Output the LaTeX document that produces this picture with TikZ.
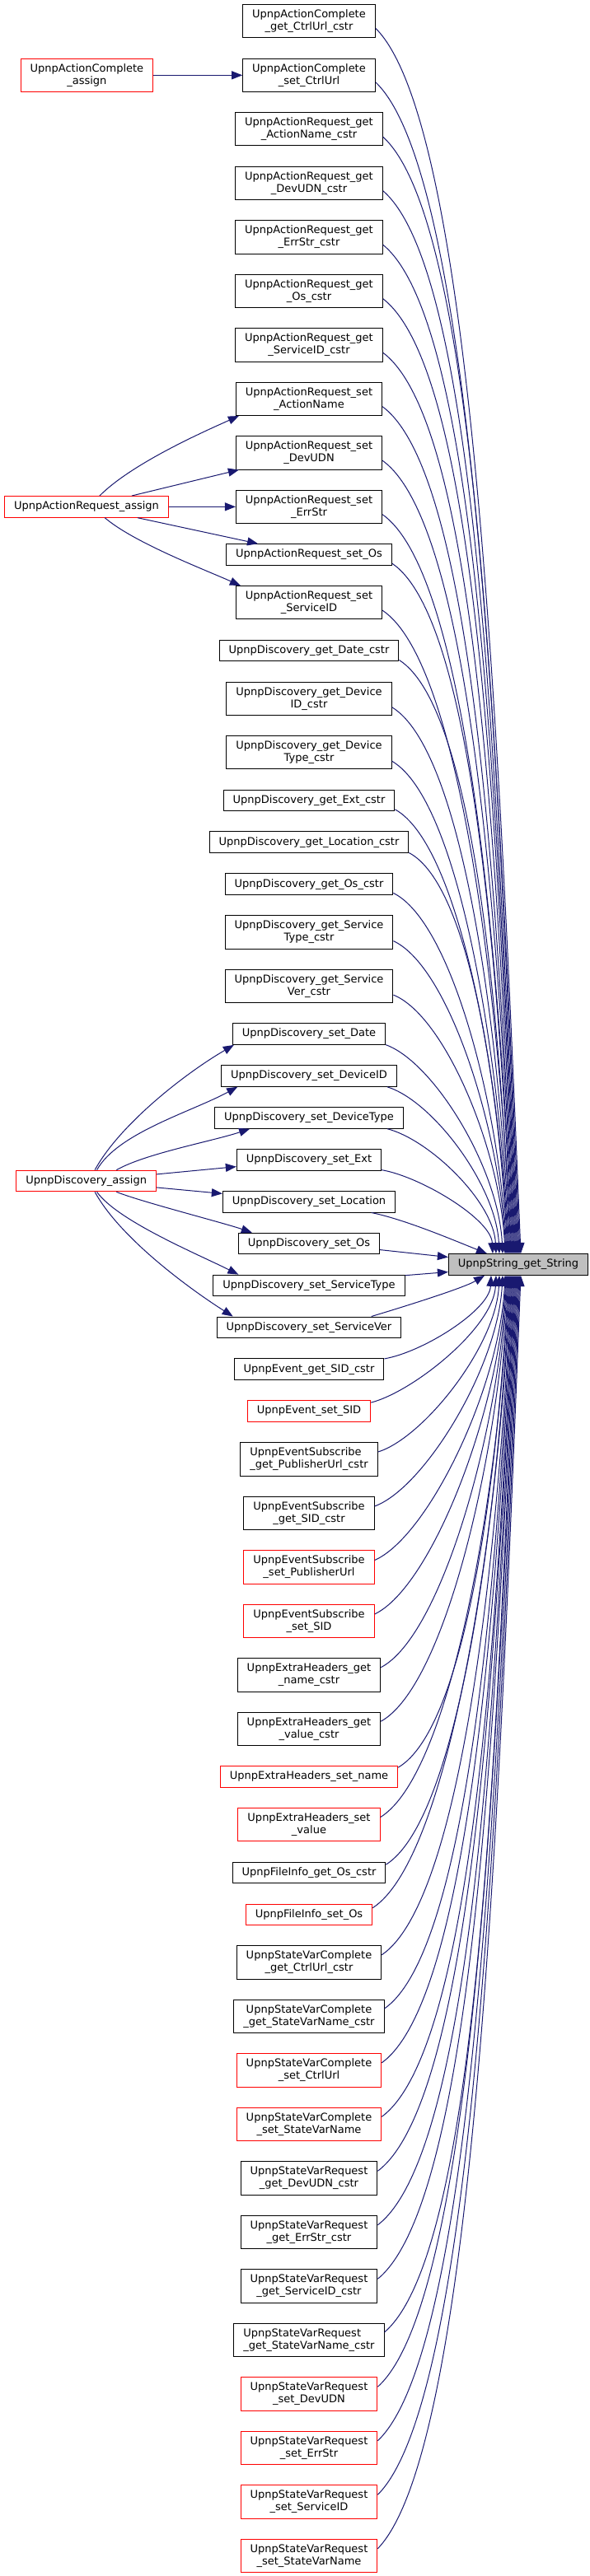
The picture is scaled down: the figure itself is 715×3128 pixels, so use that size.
\documentclass[tikz,border=0pt]{standalone}
\usepackage{fontspec}
\setmainfont{DejaVu Sans}
\usetikzlibrary{arrows.meta}
\definecolor{edgecol}{HTML}{191970}
\definecolor{hilite}{HTML}{BFBFBF}
\begin{document}
\begin{tikzpicture}[x=1pt,y=-1pt,
  fn/.style={draw=black, line width=1pt, fill=white, inner xsep=11.5pt, inner ysep=0pt,
             font=\fontsize{13pt}{15pt}\selectfont, align=center},
  one/.style={fn, minimum height=25.7pt},
  two/.style={fn, minimum height=40.3pt},
  rd/.style={draw=red},
  lft/.style={align=left},
  callarrow/.style={draw=edgecol, line width=1pt, -{Triangle[length=13pt,width=10pt]}}]
\fill[white] (0,0) rectangle (715,3128);
\useasboundingbox (0,0) rectangle (715,3128);

% left column
\node[two,rd] (a1) at (105.4,91.35) {UpnpActionComplete\\\_assign};
\node[one,rd] (a2) at (105,615.35) {UpnpActionRequest\_assign};
\node[one,rd] (a3) at (104.7,1434) {UpnpDiscovery\_assign};

% target
\node[one,fill=hilite] (s) at (629,1535.5) {UpnpString\_get\_String};

% middle column
\node[two] (m1) at (375,25.85) {UpnpActionComplete\\\_get\_CtrlUrl\_cstr};
\node[two] (m2) at (375,91.35) {UpnpActionComplete\\\_set\_CtrlUrl};
\node[two] (m3) at (375,156.85) {UpnpActionRequest\_get\\\_ActionName\_cstr};
\node[two] (m4) at (375,222.35) {UpnpActionRequest\_get\\\_DevUDN\_cstr};
\node[two] (m5) at (375,287.85) {UpnpActionRequest\_get\\\_ErrStr\_cstr};
\node[two] (m6) at (375,353.35) {UpnpActionRequest\_get\\\_Os\_cstr};
\node[two] (m7) at (375,418.85) {UpnpActionRequest\_get\\\_ServiceID\_cstr};
\node[two] (m8) at (375,484.35) {UpnpActionRequest\_set\\\_ActionName};
\node[two] (m9) at (375,549.85) {UpnpActionRequest\_set\\\_DevUDN};
\node[two] (m10) at (375,615.35) {UpnpActionRequest\_set\\\_ErrStr};
\node[one] (m11) at (375,673.55) {UpnpActionRequest\_set\_Os};
\node[two] (m12) at (375,731.75) {UpnpActionRequest\_set\\\_ServiceID};
\node[one] (m13) at (375,789.95) {UpnpDiscovery\_get\_Date\_cstr};
\node[two] (m14) at (375,848.15) {UpnpDiscovery\_get\_Device\\ID\_cstr};
\node[two] (m15) at (375,913.65) {UpnpDiscovery\_get\_Device\\Type\_cstr};
\node[one] (m16) at (375,971.85) {UpnpDiscovery\_get\_Ext\_cstr};
\node[one] (m17) at (375,1022.75) {UpnpDiscovery\_get\_Location\_cstr};
\node[one] (m18) at (375,1073.65) {UpnpDiscovery\_get\_Os\_cstr};
\node[two] (m19) at (375,1131.85) {UpnpDiscovery\_get\_Service\\Type\_cstr};
\node[two] (m20) at (375,1197.35) {UpnpDiscovery\_get\_Service\\Ver\_cstr};
\node[one] (m21) at (375,1255.55) {UpnpDiscovery\_set\_Date};
\node[one] (m22) at (375,1306.45) {UpnpDiscovery\_set\_DeviceID};
\node[one] (m23) at (375,1357.35) {UpnpDiscovery\_set\_DeviceType};
\node[one] (m24) at (375,1408.25) {UpnpDiscovery\_set\_Ext};
\node[one] (m25) at (375,1459.15) {UpnpDiscovery\_set\_Location};
\node[one] (m26) at (375,1510.05) {UpnpDiscovery\_set\_Os};
\node[one] (m27) at (375,1560.95) {UpnpDiscovery\_set\_ServiceType};
\node[one] (m28) at (375,1611.85) {UpnpDiscovery\_set\_ServiceVer};
\node[one] (m29) at (375,1662.75) {UpnpEvent\_get\_SID\_cstr};
\node[one,rd] (m30) at (375,1713.65) {UpnpEvent\_set\_SID};
\node[two,lft] (m31) at (375,1771.85) {UpnpEventSubscribe\\\_get\_PublisherUrl\_cstr};
\node[two] (m32) at (375,1837.35) {UpnpEventSubscribe\\\_get\_SID\_cstr};
\node[two,rd] (m33) at (375,1902.85) {UpnpEventSubscribe\\\_set\_PublisherUrl};
\node[two,rd] (m34) at (375,1968.35) {UpnpEventSubscribe\\\_set\_SID};
\node[two] (m35) at (375,2033.85) {UpnpExtraHeaders\_get\\\_name\_cstr};
\node[two] (m36) at (375,2099.35) {UpnpExtraHeaders\_get\\\_value\_cstr};
\node[one,rd] (m37) at (375,2157.55) {UpnpExtraHeaders\_set\_name};
\node[two,rd] (m38) at (375,2215.75) {UpnpExtraHeaders\_set\\\_value};
\node[one] (m39) at (375,2273.95) {UpnpFileInfo\_get\_Os\_cstr};
\node[one,rd] (m40) at (375,2324.85) {UpnpFileInfo\_set\_Os};
\node[two] (m41) at (375,2383.05) {UpnpStateVarComplete\\\_get\_CtrlUrl\_cstr};
\node[two] (m42) at (375,2448.55) {UpnpStateVarComplete\\\_get\_StateVarName\_cstr};
\node[two,rd] (m43) at (375,2514.05) {UpnpStateVarComplete\\\_set\_CtrlUrl};
\node[two,rd] (m44) at (375,2579.55) {UpnpStateVarComplete\\\_set\_StateVarName};
\node[two] (m45) at (375,2645.05) {UpnpStateVarRequest\\\_get\_DevUDN\_cstr};
\node[two] (m46) at (375,2710.55) {UpnpStateVarRequest\\\_get\_ErrStr\_cstr};
\node[two] (m47) at (375,2776.05) {UpnpStateVarRequest\\\_get\_ServiceID\_cstr};
\node[two,lft] (m48) at (375,2841.55) {UpnpStateVarRequest\\\_get\_StateVarName\_cstr};
\node[two,rd] (m49) at (375,2907.05) {UpnpStateVarRequest\\\_set\_DevUDN};
\node[two,rd] (m50) at (375,2972.55) {UpnpStateVarRequest\\\_set\_ErrStr};
\node[two,rd] (m51) at (375,3038.05) {UpnpStateVarRequest\\\_set\_ServiceID};
\node[two,rd] (m52) at (375,3103.55) {UpnpStateVarRequest\\\_set\_StateVarName};

% left edges
\draw[callarrow] (a1) -- (m2);
\draw[callarrow] (a2.40) .. controls +(40,-40) and +(-40,18) .. ([xshift=4pt]m8.south west);
\draw[callarrow] (a2) -- (m9);
\draw[callarrow] (a2) -- (m10);
\draw[callarrow] (a2) -- (m11);
\draw[callarrow] (a2.-31) .. controls +(35,30) and +(-45,-20) .. ([xshift=6pt]m12.north west);
\draw[callarrow] (a3.52) .. controls +(30,-55) and +(-60,35) .. ([xshift=2pt]m21.south west);
\draw[callarrow] (a3.46) .. controls +(25,-45) and +(-55,30) .. ([xshift=20pt]m22.south west);
\draw[callarrow] (a3.20) .. controls +(35,-20) and +(-45,15) .. ([xshift=43pt]m23.south west);
\draw[callarrow] (a3) -- (m24);
\draw[callarrow] (a3) -- (m25);
\draw[callarrow] (a3.-20) .. controls +(30,12) and +(-35,-12) .. ([xshift=17pt]m26.north west);
\draw[callarrow] (a3.-46) .. controls +(25,35) and +(-50,-25) .. ([xshift=31pt]m27.north west);
\draw[callarrow] (a3.-52) .. controls +(30,55) and +(-55,-35) .. ([xshift=20pt]m28.north west);

% edges to UpnpString_get_String from above
\draw[callarrow] (m1.-6) .. controls +(120,119) and +(-25,-596) .. ([xshift=3pt]s.north);
\draw[callarrow] (m2.-6) .. controls +(120,114) and +(-25,-569) .. ([xshift=2pt]s.north);
\draw[callarrow] (m3.-6) .. controls +(120,109) and +(-25,-543) .. ([xshift=1pt]s.north);
\draw[callarrow] (m4.-6) .. controls +(120,103) and +(-25,-517) .. ([xshift=0pt]s.north);
\draw[callarrow] (m5.-6) .. controls +(120,98) and +(-24,-491) .. ([xshift=-1pt]s.north);
\draw[callarrow] (m6.-6) .. controls +(120,93) and +(-23,-465) .. ([xshift=-2pt]s.north);
\draw[callarrow] (m7.-6) .. controls +(117,88) and +(-22,-438) .. ([xshift=-3pt]s.north);
\draw[callarrow] (m8.-6) .. controls +(112,82) and +(-21,-412) .. ([xshift=-4pt]s.north);
\draw[callarrow] (m9.-6) .. controls +(108,77) and +(-19,-386) .. ([xshift=-5pt]s.north);
\draw[callarrow] (m10.-6) .. controls +(103,72) and +(-18,-360) .. ([xshift=-6pt]s.north);
\draw[callarrow] (m11.-6) .. controls +(99,67) and +(-17,-336) .. ([xshift=-7pt]s.north);
\draw[callarrow] (m12.-6) .. controls +(95,63) and +(-16,-313) .. ([xshift=-8pt]s.north);
\draw[callarrow] (m13.-6) .. controls +(91,58) and +(-14,-290) .. ([xshift=-9pt]s.north);
\draw[callarrow] (m14.-6) .. controls +(87,53) and +(-13,-267) .. ([xshift=-10pt]s.north);
\draw[callarrow] (m15.-6) .. controls +(82,48) and +(-12,-240) .. ([xshift=-11pt]s.north);
\draw[callarrow] (m16.-6) .. controls +(78,43) and +(-11,-217) .. ([xshift=-12pt]s.north);
\draw[callarrow] (m17.-6) .. controls +(74,39) and +(-10,-197) .. ([xshift=-13pt]s.north);
\draw[callarrow] (m18.-6) .. controls +(71,35) and +(-9,-176) .. ([xshift=-14pt]s.north);
\draw[callarrow] (m19.-6) .. controls +(67,31) and +(-8,-153) .. ([xshift=-15pt]s.north);
\draw[callarrow] (m20.-6) .. controls +(62,25) and +(-6,-127) .. ([xshift=-16pt]s.north);
\draw[callarrow] (m21.-8) .. controls +(58,21) and +(-5,-104) .. ([xshift=-19pt]s.north);
\draw[callarrow] (m22.-8) .. controls +(55,17) and +(-4,-83) .. ([xshift=-23pt]s.north);
\draw[callarrow] (m23.-8) .. controls +(51,13) and +(-3,-63) .. ([xshift=-27pt]s.north);
\draw[callarrow] (m24.-8) .. controls +(47,8) and +(-2,-42) .. ([xshift=-31pt]s.north);
\draw[callarrow] (m25.-10) .. controls +(40,8) and +(-40,-16) .. ([xshift=-38pt]s.north);
\draw[callarrow] (m26.-5) -- ([yshift=9pt]s.west);
\draw[callarrow] (m27.6) -- ([yshift=-9pt]s.west);
\draw[callarrow] (m28.10) .. controls +(40,-12) and +(-25,15) .. ([xshift=-41pt]s.south);

% edges to UpnpString_get_String from below
\draw[callarrow] (m29.8) .. controls +(47,-8) and +(-2,42) .. ([xshift=-33pt]s.south);
\draw[callarrow] (m30.8) .. controls +(51,-13) and +(-3,63) .. ([xshift=-27pt]s.south);
\draw[callarrow] (m31.6) .. controls +(55,-17) and +(-4,86) .. ([xshift=-23pt]s.south);
\draw[callarrow] (m32.6) .. controls +(60,-22) and +(-6,112) .. ([xshift=-19pt]s.south);
\draw[callarrow] (m33.6) .. controls +(64,-28) and +(-7,139) .. ([xshift=-16pt]s.south);
\draw[callarrow] (m34.6) .. controls +(69,-33) and +(-8,165) .. ([xshift=-15pt]s.south);
\draw[callarrow] (m35.6) .. controls +(73,-38) and +(-10,191) .. ([xshift=-14pt]s.south);
\draw[callarrow] (m36.6) .. controls +(78,-43) and +(-11,217) .. ([xshift=-13pt]s.south);
\draw[callarrow] (m37.6) .. controls +(82,-48) and +(-12,240) .. ([xshift=-12pt]s.south);
\draw[callarrow] (m38.6) .. controls +(86,-53) and +(-13,264) .. ([xshift=-11pt]s.south);
\draw[callarrow] (m39.6) .. controls +(90,-57) and +(-14,287) .. ([xshift=-10pt]s.south);
\draw[callarrow] (m40.6) .. controls +(94,-61) and +(-15,307) .. ([xshift=-9pt]s.south);
\draw[callarrow] (m41.6) .. controls +(98,-66) and +(-16,331) .. ([xshift=-8pt]s.south);
\draw[callarrow] (m42.6) .. controls +(102,-71) and +(-18,357) .. ([xshift=-7pt]s.south);
\draw[callarrow] (m43.6) .. controls +(107,-77) and +(-19,383) .. ([xshift=-6pt]s.south);
\draw[callarrow] (m44.6) .. controls +(112,-82) and +(-20,409) .. ([xshift=-5pt]s.south);
\draw[callarrow] (m45.6) .. controls +(116,-87) and +(-22,436) .. ([xshift=-4pt]s.south);
\draw[callarrow] (m46.6) .. controls +(120,-92) and +(-23,462) .. ([xshift=-3pt]s.south);
\draw[callarrow] (m47.6) .. controls +(120,-98) and +(-24,488) .. ([xshift=-2pt]s.south);
\draw[callarrow] (m48.6) .. controls +(120,-103) and +(-25,514) .. ([xshift=-1pt]s.south);
\draw[callarrow] (m49.6) .. controls +(120,-108) and +(-25,540) .. ([xshift=0pt]s.south);
\draw[callarrow] (m50.6) .. controls +(120,-113) and +(-25,567) .. ([xshift=1pt]s.south);
\draw[callarrow] (m51.6) .. controls +(120,-119) and +(-25,593) .. ([xshift=2pt]s.south);
\draw[callarrow] (m52.6) .. controls +(120,-124) and +(-25,619) .. ([xshift=3pt]s.south);
\end{tikzpicture}
\end{document}
